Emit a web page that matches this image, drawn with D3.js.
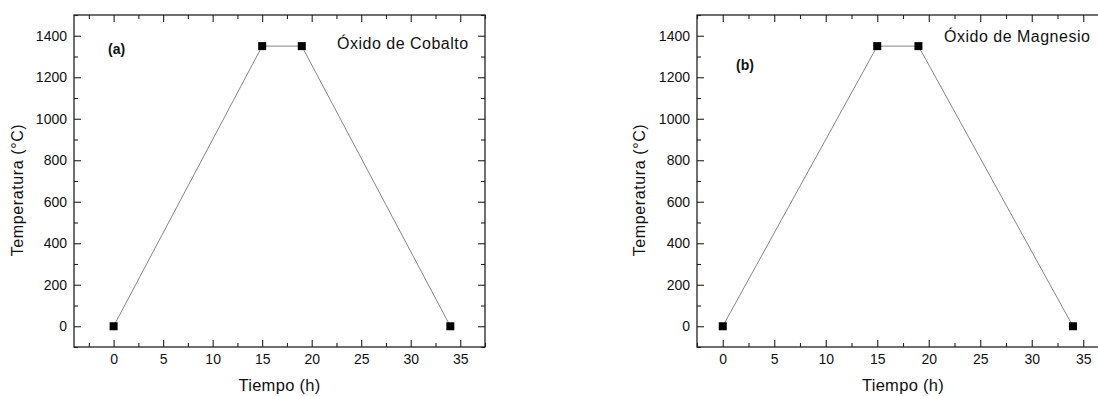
<!DOCTYPE html>
<html>
<head>
<meta charset="utf-8">
<script src="https://cdn.jsdelivr.net/npm/d3@7"></script>
<style>
  html, body { margin: 0; padding: 0; background: #fff; }
  svg { display: block; }
  text { font-family: "Liberation Sans", Arial, Helvetica, sans-serif; fill: #111; }
</style>
</head>
<body>
<svg id="chart" width="1098" height="396"></svg>
<script>
// Heating programme: time (h) and furnace temperature (°C)
const timeH = [0, 15, 19, 34];
const tempCobalto = [0, 1350, 1350, 0];
const tempMagnesio = [0, 1350, 1350, 0];

const xTicks = [0, 5, 10, 15, 20, 25, 30, 35];
const xMinor = [-2.5, 2.5, 7.5, 12.5, 17.5, 22.5, 27.5, 32.5, 37.5];
const yTicks = [0, 200, 400, 600, 800, 1000, 1200, 1400];
const yMinor = [-100, 100, 300, 500, 700, 900, 1100, 1300, 1500];

const panelTags = ["(a)", "(b)"];
const panelNames = ["Óxido de Cobalto", "Óxido de Magnesio"];
const xTitle = "Tiempo (h)";
const yTitle = "Temperatura (°C)";

const svg = d3.select("#chart");
const fmt = d3.format("d");

function drawPanel(cfg) {
  const { left, top, width, height, xDomain, temps, tag, name, tagPos, namePos, yTitleX } = cfg;
  const g = svg.append("g");
  const x = d3.scaleLinear().domain(xDomain).range([left, left + width]);
  const y = d3.scaleLinear().domain([-100, 1500]).range([top + height, top]);

  const major = 7, minor = 4;
  const styleAxis = sel => {
    sel.selectAll(".domain").remove();
    sel.selectAll("line").attr("stroke", "#222").attr("stroke-width", 1.1);
    sel.selectAll("text").attr("font-size", 14).attr("fill", "#111")
      .attr("font-family", "Liberation Sans, Arial, sans-serif");
  };
  const inX = v => v >= xDomain[0] && v <= xDomain[1];

  // bottom axis with labels, top axis without
  g.append("g").attr("transform", `translate(0,${top + height})`)
    .call(d3.axisBottom(x).tickValues(xTicks).tickFormat(fmt).tickSizeInner(-major).tickSizeOuter(0).tickPadding(7))
    .call(styleAxis);
  g.append("g").attr("transform", `translate(0,${top + height})`)
    .call(d3.axisBottom(x).tickValues(xMinor.filter(inX)).tickSizeInner(-minor).tickSizeOuter(0).tickFormat(""))
    .call(styleAxis);
  g.append("g").attr("transform", `translate(0,${top})`)
    .call(d3.axisTop(x).tickValues(xTicks).tickSizeInner(-major).tickSizeOuter(0).tickFormat(""))
    .call(styleAxis);
  g.append("g").attr("transform", `translate(0,${top})`)
    .call(d3.axisTop(x).tickValues(xMinor.filter(inX)).tickSizeInner(-minor).tickSizeOuter(0).tickFormat(""))
    .call(styleAxis);

  // left axis with labels, right axis without
  g.append("g").attr("transform", `translate(${left},0)`)
    .call(d3.axisLeft(y).tickValues(yTicks).tickFormat(fmt).tickSizeInner(-major).tickSizeOuter(0).tickPadding(7))
    .call(styleAxis);
  g.append("g").attr("transform", `translate(${left},0)`)
    .call(d3.axisLeft(y).tickValues(yMinor).tickSizeInner(-minor).tickSizeOuter(0).tickFormat(""))
    .call(styleAxis);
  g.append("g").attr("transform", `translate(${left + width},0)`)
    .call(d3.axisRight(y).tickValues(yTicks).tickSizeInner(-major).tickSizeOuter(0).tickFormat(""))
    .call(styleAxis);
  g.append("g").attr("transform", `translate(${left + width},0)`)
    .call(d3.axisRight(y).tickValues(yMinor).tickSizeInner(-minor).tickSizeOuter(0).tickFormat(""))
    .call(styleAxis);

  // frame
  g.append("rect")
    .attr("x", left).attr("y", top).attr("width", width).attr("height", height)
    .attr("fill", "none").attr("stroke", "#222").attr("stroke-width", 1.3);

  // temperature profile
  const pts = timeH.map((t, i) => [t, temps[i]]);
  g.append("path")
    .datum(pts)
    .attr("fill", "none").attr("stroke", "#666").attr("stroke-width", 0.8)
    .attr("d", d3.line().x(d => x(d[0])).y(d => y(d[1])));
  const s = 8;
  g.selectAll("rect.pt").data(pts).join("rect")
    .attr("class", "pt")
    .attr("x", d => x(d[0]) - s / 2).attr("y", d => y(d[1]) - s / 2)
    .attr("width", s).attr("height", s).attr("fill", "#000");

  // titles
  g.append("text")
    .attr("x", left + width / 2).attr("y", top + height + 44)
    .attr("text-anchor", "middle").attr("font-size", 16.5).attr("letter-spacing", 0.3)
    .text(xTitle);
  g.append("text")
    .attr("transform", `translate(${yTitleX},${top + height / 2 + 9}) rotate(-90)`)
    .attr("text-anchor", "middle").attr("font-size", 16).attr("letter-spacing", 0.6)
    .text(yTitle);

  // annotations
  g.append("text")
    .attr("x", tagPos[0]).attr("y", tagPos[1])
    .attr("font-size", 14).attr("font-weight", "bold")
    .text(tag);
  g.append("text")
    .attr("x", namePos[0]).attr("y", namePos[1])
    .attr("font-size", 16).attr("letter-spacing", 0.5)
    .text(name);
}

drawPanel({
  left: 74, top: 15, width: 411, height: 332,
  xDomain: [-4, 37.5], temps: tempCobalto,
  tag: panelTags[0], name: panelNames[0],
  tagPos: [108, 54], namePos: [337, 49], yTitleX: 23
});

drawPanel({
  left: 697, top: 15, width: 412, height: 332,
  xDomain: [-2.5, 37.5], temps: tempMagnesio,
  tag: panelTags[1], name: panelNames[1],
  tagPos: [736, 70], namePos: [944, 42], yTitleX: 645
});
</script>
</body>
</html>
